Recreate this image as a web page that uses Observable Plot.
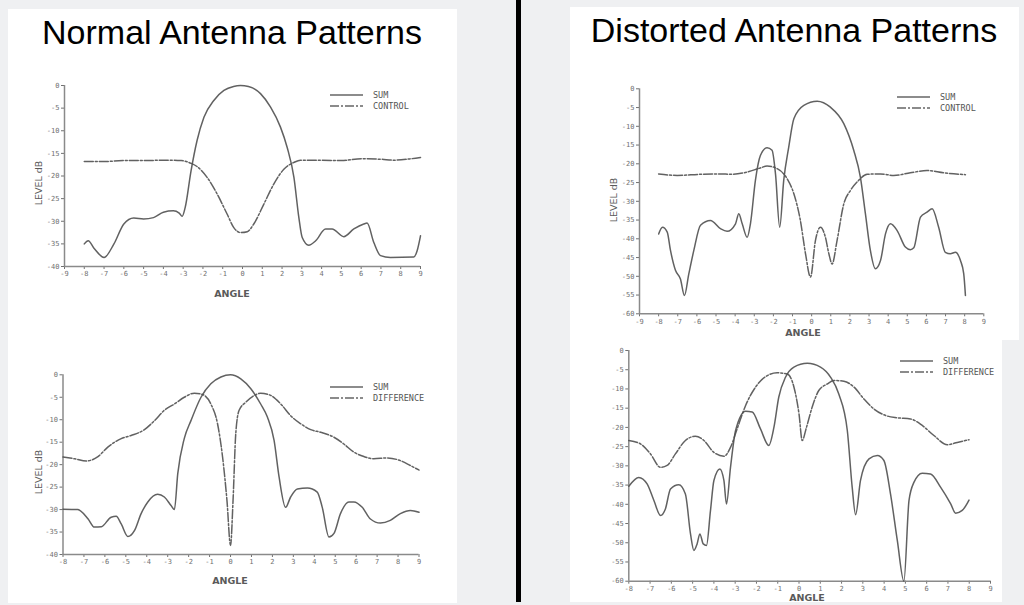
<!DOCTYPE html>
<html><head><meta charset="utf-8">
<script src="https://cdn.jsdelivr.net/npm/d3@7"></script>
<script src="https://cdn.jsdelivr.net/npm/@observablehq/plot@0.6"></script>
<style>
html,body{margin:0;padding:0;}
body{width:1024px;height:605px;background:#eff0f2;position:relative;overflow:hidden;font-family:"Liberation Sans",Arial,sans-serif;}
.panel{position:absolute;background:#fff;}
.divider{position:absolute;left:516px;top:0;width:5px;height:602px;background:#000;}
.title{position:absolute;font-size:34px;color:#000;white-space:nowrap;transform:translateX(-50%);line-height:1;}
.chart{position:absolute;}
.axlbl{position:absolute;color:#5a5a5a;font-weight:bold;font-size:9.5px;white-space:nowrap;transform:translate(-50%,-50%);font-family:"DejaVu Sans",sans-serif;}
.ylbl{transform:translate(-50%,-50%) rotate(-90deg);font-weight:normal;}
.legend{position:absolute;font-family:"DejaVu Sans Mono",monospace;font-size:8.5px;color:#555;}
.legend .row{display:flex;align-items:center;height:11px;}
.legend svg{margin-right:10px;}
</style>
</head><body>
<div class="panel" style="left:8px;top:9px;width:449px;height:594px"></div>
<div class="panel" style="left:570px;top:7px;width:449px;height:333px"></div>
<div class="panel" style="left:570px;top:340px;width:432px;height:262px"></div>
<div class="divider"></div>
<div class="title" style="left:232px;top:15px">Normal Antenna Patterns</div>
<div class="title" style="left:794px;top:13px">Distorted Antenna Patterns</div>
<script>
// ---- data: [angle, level dB] ----
const normalSum1 = [[-8,-35],[-7.8,-34.3],[-7.5,-36],[-7,-38],[-6.5,-35],[-6,-30.6],[-5.5,-29.3],[-5,-29.5],[-4.5,-29.2],[-4,-28],[-3.5,-27.7],[-3.2,-28.2],[-3.05,-28.9],[-2.9,-27],[-2.6,-18.8],[-2.3,-12.2],[-1.95,-7],[-1.45,-3.3],[-0.94,-1.1],[-0.45,-0.2],[-0.1,0],[0.3,-0.2],[0.91,-1.8],[1.42,-4.8],[1.92,-9.2],[2.26,-13.7],[2.6,-20.3],[2.85,-29.2],[3.02,-33.6],[3.35,-35.3],[3.7,-34.3],[4.2,-31.7],[4.53,-31.7],[5.12,-33.4],[5.63,-31.7],[6.13,-30.6],[6.3,-30.4],[6.64,-34.7],[6.98,-37.6],[7.48,-38],[8.66,-37.9],[8.83,-36.5],[9,-33.2]];
const normalControl = [[-8,-16.8],[-7,-16.8],[-6,-16.6],[-5,-16.6],[-4,-16.5],[-3.1,-16.6],[-2.6,-17.2],[-2.3,-17.9],[-1.79,-20.3],[-1.28,-24],[-0.78,-28.4],[-0.44,-31.4],[-0.1,-32.5],[0.24,-32.3],[0.57,-30.6],[1.08,-26.2],[1.58,-21.8],[2.09,-18.5],[2.6,-17],[2.93,-16.5],[4,-16.5],[5,-16.6],[6,-16.2],[7,-16.3],[7.65,-16.5],[8.5,-16.2],[9,-15.9]];
const normalSum2 = [[-8,-29.9],[-7.3,-30],[-6.8,-32.1],[-6.5,-33.9],[-6.17,-33.8],[-5.7,-31.7],[-5.46,-31.5],[-5.22,-33.2],[-4.9,-36],[-4.59,-34.7],[-4.27,-30.9],[-3.95,-28.3],[-3.48,-26.6],[-3.16,-27.2],[-2.84,-29.1],[-2.68,-30],[-2.52,-22],[-2.21,-14.2],[-1.89,-10.2],[-1.41,-5],[-0.94,-2],[-0.46,-0.5],[0,0],[0.49,-0.9],[0.97,-3.1],[1.44,-6.5],[1.76,-9.4],[2.08,-14.6],[2.32,-22.8],[2.63,-29.5],[2.87,-27.2],[3.19,-25.4],[3.67,-25.2],[4.14,-26.1],[4.38,-29.5],[4.7,-36.1],[4.94,-35.3],[5.25,-30.9],[5.65,-28.3],[5.89,-28.3],[6.29,-29.5],[6.68,-32.1],[7.16,-33],[7.63,-32.4],[8.11,-30.9],[8.59,-30.2],[9,-30.6]];
const normalDiff = [[-8,-18.3],[-7.44,-18.7],[-6.89,-19.2],[-6.33,-18.2],[-5.86,-16.1],[-5.22,-14.2],[-4.75,-13.5],[-4.11,-12.2],[-3.63,-10.2],[-3.16,-7.9],[-2.68,-6.5],[-2.21,-5],[-1.73,-4.1],[-1.33,-4.4],[-0.94,-6.5],[-0.62,-10.9],[-0.38,-18.3],[-0.17,-28],[0,-38],[0.12,-28],[0.25,-13.1],[0.41,-7.9],[0.73,-6.1],[1.13,-4.6],[1.44,-4.1],[1.92,-4.6],[2.4,-6.5],[2.87,-9.1],[3.35,-10.9],[3.83,-12.2],[4.3,-12.8],[4.94,-13.9],[5.41,-15.4],[5.89,-17.2],[6.37,-18.2],[6.84,-18.7],[7.48,-18.5],[8.11,-19.1],[8.59,-20.2],[9,-21.2]];
const distSum1 = [[-8,-38.7],[-7.8,-36.9],[-7.55,-38.2],[-7.38,-43.1],[-7.12,-48.4],[-6.86,-50.7],[-6.65,-55.1],[-6.42,-49.3],[-6.16,-43.1],[-5.81,-36.4],[-5.29,-35.1],[-4.77,-37.3],[-4.42,-38],[-3.98,-36],[-3.81,-33.3],[-3.63,-36],[-3.37,-39.6],[-3.2,-36],[-2.94,-24.4],[-2.68,-17.8],[-2.33,-15.7],[-2.07,-16.4],[-1.89,-22.7],[-1.67,-36.9],[-1.46,-24.4],[-1.2,-15.6],[-0.93,-8],[-0.41,-4.4],[0.29,-3.3],[0.98,-4.9],[1.68,-9.3],[2.2,-16.4],[2.55,-23.6],[2.81,-33.3],[3.07,-43.1],[3.33,-48],[3.6,-45.8],[3.86,-38.7],[4.12,-36],[4.47,-37.8],[4.9,-42.2],[5.16,-42.9],[5.34,-42.4],[5.69,-34.2],[6.03,-32.9],[6.3,-32],[6.64,-36.9],[6.99,-43.6],[7.25,-44],[7.52,-43.6],[7.78,-45.8],[7.95,-49.3],[8.04,-55.1]];
const distControl = [[-8,-22.7],[-7.03,-23.1],[-5.81,-22.8],[-4.77,-22.7],[-4.24,-22.8],[-3.37,-22.2],[-2.68,-21.1],[-2.33,-20.6],[-1.8,-21.3],[-1.28,-24],[-0.93,-28],[-0.59,-35.1],[-0.32,-44],[-0.06,-50.2],[0.2,-40.4],[0.46,-36.9],[0.72,-39.6],[0.9,-44],[1.07,-46.7],[1.33,-40.4],[1.68,-30.7],[2.03,-27.1],[2.46,-24.4],[2.9,-22.8],[3.6,-22.7],[4.29,-23.1],[5.16,-22.4],[6.03,-21.8],[6.9,-22.4],[8.04,-22.9]];
const distSum2 = [[-8,-35.3],[-7.53,-33],[-7.14,-34.7],[-6.82,-39],[-6.51,-42.9],[-6.28,-41.2],[-6.04,-36],[-5.65,-34.9],[-5.34,-37.3],[-5.1,-47.7],[-4.94,-52],[-4.79,-50.3],[-4.66,-47.7],[-4.5,-50.3],[-4.35,-50.7],[-4.16,-41.6],[-4,-33.8],[-3.72,-30.8],[-3.53,-33.8],[-3.41,-39.9],[-3.22,-30.4],[-2.98,-20.8],[-2.51,-15.8],[-2.2,-16],[-1.81,-20.4],[-1.42,-24.7],[-1.18,-20],[-0.95,-12.1],[-0.63,-6.9],[-0.24,-4.3],[0.39,-3.3],[1.01,-4.3],[1.48,-6.9],[1.87,-11.3],[2.27,-20.8],[2.5,-35.6],[2.66,-42.7],[2.89,-33.8],[3.29,-28.2],[3.68,-27.3],[3.99,-28.6],[4.3,-37.3],[4.62,-49.4],[4.93,-60],[5.17,-39],[5.4,-34.3],[5.79,-31.9],[6.18,-32.1],[6.66,-35.6],[7.13,-39.9],[7.36,-42.3],[7.67,-41.6],[7.99,-38.9]];
const distDiff = [[-8,-23.4],[-7.45,-24.3],[-6.98,-26.9],[-6.51,-30.4],[-6.2,-29.9],[-5.81,-26.9],[-5.34,-23.4],[-4.87,-22.3],[-4.47,-23.4],[-4,-26.5],[-3.53,-27.5],[-3.22,-25.2],[-2.91,-20.4],[-2.51,-14.3],[-2.04,-9.5],[-1.57,-6.8],[-1.03,-5.8],[-0.55,-6.1],[-0.24,-9.5],[0,-16.5],[0.15,-23.4],[0.35,-20],[0.62,-14.7],[0.93,-10.4],[1.33,-8.7],[1.64,-7.8],[2.11,-8],[2.58,-9.5],[3.05,-12.6],[3.52,-15.2],[4.07,-16.9],[4.62,-17.5],[5.24,-17.8],[5.79,-19.5],[6.34,-22.1],[6.97,-24.5],[7.44,-23.9],[7.99,-23.2]];

const ticksX9 = d3.range(-9, 10);
const ticksX8 = d3.range(-8, 10);
const ticksY40 = d3.range(0, -41, -5);
const ticksY60 = d3.range(0, -61, -5);

const DASH = "9,2,2,2";

function drawPanel(cfg) {
  const {box, frame, xDomain, yDomain, xTicks, yTicks, series} = cfg;
  const marks = [
    Plot.axisY({ticks: yTicks, tickSize: 3, tickPadding: 2, tickFormat: d => String(d), label: null}),
    Plot.axisX({ticks: xTicks, tickSize: 3, tickPadding: 2, tickFormat: d => String(d), label: null}),
    Plot.ruleX([xDomain[0]], {stroke: "#8a8a8a", strokeWidth: 1.5}),
    Plot.ruleY([yDomain[0]], {stroke: "#8a8a8a", strokeWidth: 1.5}),
    ...series.map(s => Plot.line(s.data, {x: d => d[0], y: d => d[1], curve: "monotone-x", stroke: "#505050", strokeWidth: 1.5, strokeOpacity: 0.9, strokeDasharray: s.dash}))
  ];
  const svg = Plot.plot({
    width: box.width, height: box.height,
    marginLeft: frame.x0 - box.left, marginRight: box.left + box.width - frame.x1,
    marginTop: frame.y0 - box.top, marginBottom: box.top + box.height - frame.y1,
    x: {domain: xDomain}, y: {domain: yDomain},
    style: {background: "transparent", fontFamily: "DejaVu Sans Mono, monospace", fontSize: "7px", color: "#707070", overflow: "visible"},
    marks
  });
  svg.classList.add("chart");
  svg.style.left = box.left + "px";
  svg.style.top = box.top + "px";
  document.body.appendChild(svg);
}

function addLegend(left, top, names) {
  const div = document.createElement("div");
  div.className = "legend";
  div.style.left = left + "px"; div.style.top = top + "px";
  names.forEach((n, i) => {
    const row = document.createElement("div"); row.className = "row";
    row.innerHTML = `<svg width="33" height="4"><line x1="0" y1="2" x2="33" y2="2" stroke="#666" stroke-width="1.3" ${i ? `stroke-dasharray="${DASH}"` : ""}/></svg><span>${n}</span>`;
    div.appendChild(row);
  });
  document.body.appendChild(div);
}
function addLabel(text, x, y, rotated) {
  const d = document.createElement("div");
  d.className = "axlbl" + (rotated ? " ylbl" : "");
  d.textContent = text; d.style.left = x + "px"; d.style.top = y + "px";
  document.body.appendChild(d);
}

drawPanel({box: {left: 8, top: 72, width: 449, height: 215}, frame: {x0: 64, x1: 420, y0: 85, y1: 266},
  xDomain: [-9, 9], yDomain: [-40, 0], xTicks: ticksX9, yTicks: ticksY40,
  series: [{data: normalSum1}, {data: normalControl, dash: DASH}]});
drawPanel({box: {left: 8, top: 360, width: 449, height: 215}, frame: {x0: 62.5, x1: 418.5, y0: 374.3, y1: 554},
  xDomain: [-8, 9], yDomain: [-40, 0], xTicks: ticksX8, yTicks: ticksY40,
  series: [{data: normalSum2}, {data: normalDiff, dash: DASH}]});
drawPanel({box: {left: 570, top: 75, width: 449, height: 255}, frame: {x0: 639, x1: 983.3, y0: 88.3, y1: 313.3},
  xDomain: [-9, 9], yDomain: [-60, 0], xTicks: ticksX9, yTicks: ticksY60,
  series: [{data: distSum1}, {data: distControl, dash: DASH}]});
drawPanel({box: {left: 570, top: 340, width: 432, height: 262}, frame: {x0: 628.3, x1: 990, y0: 350, y1: 580.7},
  xDomain: [-8, 9], yDomain: [-60, 0], xTicks: ticksX8, yTicks: ticksY60,
  series: [{data: distSum2}, {data: distDiff, dash: DASH}]});

addLegend(330, 89, ["SUM", "CONTROL"]);
addLegend(330, 381, ["SUM", "DIFFERENCE"]);
addLegend(897, 91, ["SUM", "CONTROL"]);
addLegend(900, 355, ["SUM", "DIFFERENCE"]);

addLabel("ANGLE", 232, 293);
addLabel("ANGLE", 230, 580);
addLabel("ANGLE", 803, 332);
addLabel("ANGLE", 807, 597);
addLabel("LEVEL dB", 38, 183, true);
addLabel("LEVEL dB", 38, 472, true);
addLabel("LEVEL dB", 613, 200, true);
</script>
</body></html>
